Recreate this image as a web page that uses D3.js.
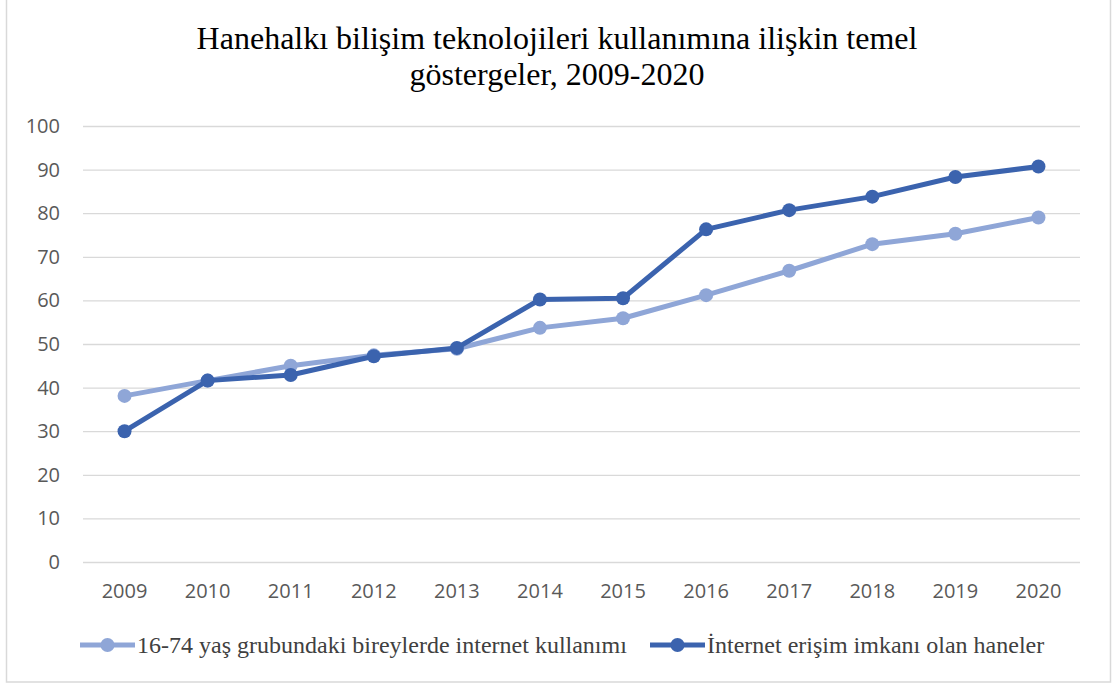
<!DOCTYPE html>
<html>
<head>
<meta charset="utf-8">
<script src="https://cdn.jsdelivr.net/npm/d3@7"></script>
<style>
    body { margin: 0; background: #ffffff; }
</style>
</head>
<body>
<div id="chart"></div>
<script>
const years = ['2009', '2010', '2011', '2012', '2013', '2014', '2015', '2016', '2017', '2018', '2019', '2020'];
const bireyler = [38.1, 41.6, 45.0, 47.4, 48.9, 53.7, 55.9, 61.2, 66.8, 72.9, 75.3, 79.0];
const haneler = [30.0, 41.6, 42.9, 47.2, 49.1, 60.2, 60.5, 76.3, 80.7, 83.8, 88.3, 90.7];
const y_ticks = [0, 10, 20, 30, 40, 50, 60, 70, 80, 90, 100];
const series_names = ['16-74 yaş grubundaki bireylerde internet kullanımı', 'İnternet erişim imkanı olan haneler'];
const title_lines = ['Hanehalkı bilişim teknolojileri kullanımına ilişkin temel', 'göstergeler, 2009-2020'];

(function() {
    const width = 1115, height = 686;
    const colors = ['#8fa6d7', '#3b63ae'];
    const margins = {top: 126, right: 35, bottom: 124, left: 83};

    let svg = d3.select('#chart').append('svg')
        .attr('width', width)
        .attr('height', height);

    // chart border
    svg.append('rect')
        .attr('x', 6.5).attr('y', -2)
        .attr('width', 1104).attr('height', 684)
        .attr('fill', '#ffffff')
        .attr('stroke', '#d9d9d9')
        .attr('stroke-width', 1.5);

    let w = width - margins.left - margins.right,
        h = height - margins.top - margins.bottom;

    let x = d3.scaleBand().domain(years).range([0, w]),
        y = d3.scaleLinear().domain([0, 100]).range([h, 0]);

    svg.append('text')
        .attr('text-anchor', 'middle')
        .attr('font-family', '"Liberation Serif", "Times New Roman", serif')
        .attr('font-size', 32)
        .attr('fill', '#000000')
        .selectAll('tspan')
        .data(title_lines)
        .enter().append('tspan')
        .attr('x', 557)
        .attr('y', (d, i) => 49 + i * 36)
        .text((d) => d);

    let g = svg.append('g')
        .attr('transform', 'translate(' + margins.left + ',' + margins.top + ')');

    let y_axis = g.append('g')
        .call(d3.axisLeft(y).tickValues(y_ticks).tickSize(-w).tickPadding(23));
    y_axis.select('.domain').remove();
    y_axis.selectAll('line').attr('stroke', '#d9d9d9').attr('stroke-width', 1.3);
    y_axis.selectAll('text')
        .attr('fill', '#595959')
        .attr('font-family', '"Open Sans", "Noto Sans", sans-serif')
        .attr('font-size', 20);

    let x_axis = g.append('g')
        .attr('transform', 'translate(0,' + h + ')')
        .call(d3.axisBottom(x).tickSize(0).tickPadding(22));
    x_axis.select('.domain').remove();
    x_axis.selectAll('text')
        .attr('fill', '#595959')
        .attr('font-family', '"Open Sans", "Noto Sans", sans-serif')
        .attr('font-size', 20);

    let line = d3.line()
        .x((d, i) => x(years[i]) + x.bandwidth() / 2)
        .y((d) => y(d));

    [bireyler, haneler].forEach(function(data, k) {
        g.append('path').datum(data)
            .attr('fill', 'none')
            .attr('stroke', colors[k])
            .attr('stroke-width', 5)
            .attr('stroke-linejoin', 'round')
            .attr('d', line);

        g.append('g').selectAll('circle')
            .data(data)
            .enter().append('circle')
            .attr('cx', (d, i) => x(years[i]) + x.bandwidth() / 2)
            .attr('cy', (d) => y(d))
            .attr('r', 7)
            .attr('fill', colors[k]);
    });

    // legend
    let legend_x = [80, 650];
    let legend = svg.append('g')
        .attr('transform', 'translate(0,645)');

    series_names.forEach(function(name, k) {
        let item = legend.append('g')
            .attr('transform', 'translate(' + legend_x[k] + ',0)');
        item.append('line')
            .attr('x1', 0).attr('x2', 55)
            .attr('stroke', colors[k])
            .attr('stroke-width', 5);
        item.append('circle')
            .attr('cx', 27.5)
            .attr('r', 7)
            .attr('fill', colors[k]);
        item.append('text')
            .attr('x', 57)
            .attr('dy', '0.35em')
            .attr('font-family', '"Liberation Serif", "Times New Roman", serif')
            .attr('font-size', 24)
            .attr('fill', '#404040')
            .text(name);
    });
}());
</script>
</body>
</html>
